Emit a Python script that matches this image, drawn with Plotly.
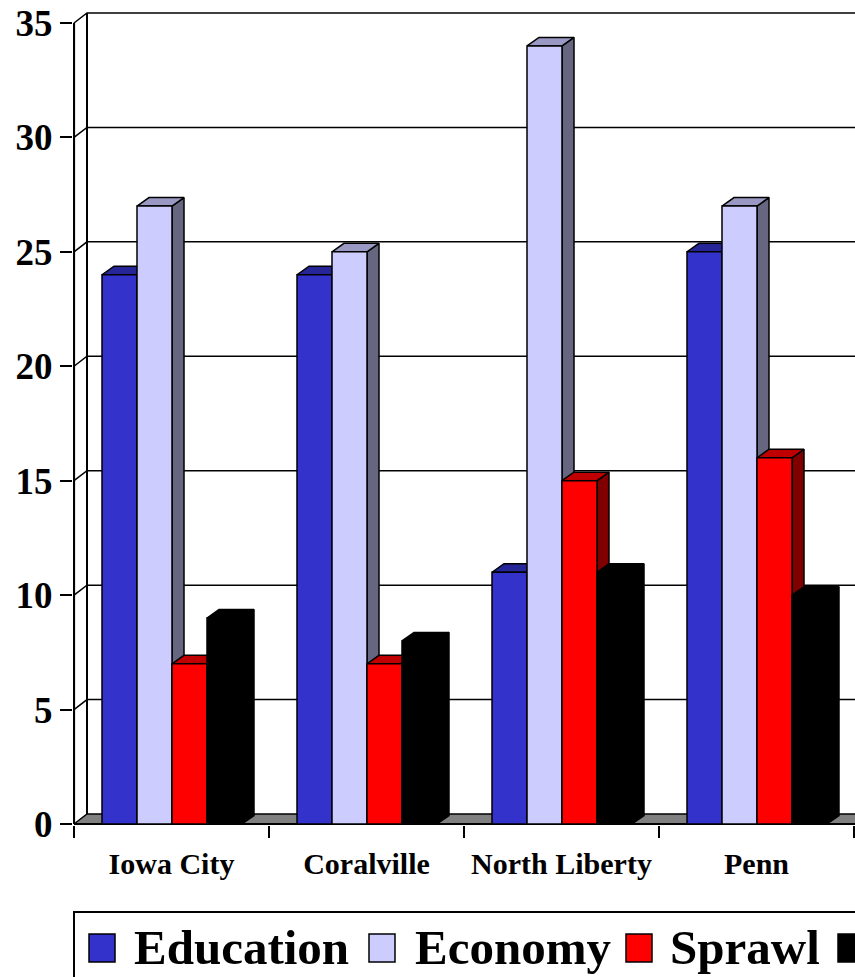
import plotly.graph_objects as go

# ---------------- data ----------------
categories = ["Iowa City", "Coralville", "North Liberty", "Penn"]
series_names = ["Education", "Economy", "Sprawl", "Other"]
education = [24, 24, 11, 25]
economy = [27, 25, 34, 27]
sprawl = [7, 7, 15, 16]
other = [9, 8, 11, 10]
y_ticks = [0, 5, 10, 15, 20, 25, 30, 35]

series_values = [education, economy, sprawl, other]

# ---------------- styles ----------------
front_colors = ["#3333CC", "#CCCCFF", "#FF0000", "#000000"]
top_colors = ["#262699", "#9999C4", "#C00000", "#000000"]
side_colors = ["#1A1A66", "#666680", "#800000", "#000000"]
FLOOR = "#808080"
FONT = "Liberation Serif, Times New Roman, serif"

W, H = 855, 977
ML, MR, MT, MB = 73, 0, 5, 152
PX_X = 195.0      # px per category
PX_Y = 22.886     # px per unit
plot_w = W - ML - MR
plot_h = H - MT - MB
x_range = [-1 / PX_X, (plot_w - 1) / PX_X]
y_range = [-1 / PX_Y, (plot_h - 1) / PX_Y]

DXW, DYW = 13 / PX_X, 10 / PX_Y      # wall depth
DXB, DYB = 12 / PX_X, 8.5 / PX_Y     # bar depth
BAR_OFF, BAR_W = 28 / PX_X, 35 / PX_X
X_END = x_range[1] + 0.2
Y_MAX = max(y_ticks)


def px_x(p):
    return (p - ML) / plot_w


def px_y(p):
    return (H - MB - p) / plot_h


def polys_to_xy(polys):
    xs, ys = [], []
    for poly in polys:
        for (a, b) in poly + [poly[0]]:
            xs.append(a)
            ys.append(b)
        xs.append(None)
        ys.append(None)
    return xs, ys


def poly_trace(polys, color, lw=1.5, name=None):
    xs, ys = polys_to_xy(polys)
    return go.Scatter(x=xs, y=ys, mode="lines" if lw > 0 else "none",
                      fill="toself", fillcolor=color,
                      line=dict(color="black", width=lw),
                      hoverinfo="skip", showlegend=False, name=name)


def line_trace(segs, lw):
    xs, ys = [], []
    for seg in segs:
        for (a, b) in seg:
            xs.append(a)
            ys.append(b)
        xs.append(None)
        ys.append(None)
    return go.Scatter(x=xs, y=ys, mode="lines",
                      line=dict(color="black", width=lw),
                      hoverinfo="skip", showlegend=False)


traces = []
# floor
traces.append(poly_trace([[(0, 0), (X_END, 0), (X_END + DXW, DYW), (DXW, DYW)]], FLOOR, lw=0))
# gridlines on back wall + left wall diagonals
grid = [[(0, v), (DXW, v + DYW), (X_END, v + DYW)] for v in y_ticks]
traces.append(line_trace(grid, 1.5))
# back wall vertical edge
traces.append(line_trace([[(DXW, DYW), (DXW, Y_MAX + DYW)]], 2))
# front vertical axis and floor front edge
traces.append(line_trace([[(0, 0), (0, Y_MAX)], [(0, 0), (X_END, 0)]], 2.2))

# bars
for s, vals in enumerate(series_values):
    fronts, tops, sides = [], [], []
    for i, v in enumerate(vals):
        x0 = i + BAR_OFF + s * BAR_W
        x1 = x0 + BAR_W
        fronts.append([(x0, 0), (x1, 0), (x1, v), (x0, v)])
        tops.append([(x0, v), (x1, v), (x1 + DXB, v + DYB), (x0 + DXB, v + DYB)])
        sides.append([(x1, 0), (x1 + DXB, DYB), (x1 + DXB, v + DYB), (x1, v)])
    traces.append(poly_trace(sides, side_colors[s]))
    traces.append(poly_trace(tops, top_colors[s]))
    traces.append(poly_trace(fronts, front_colors[s], name=series_names[s]))

fig = go.Figure(traces)

# manual legend (box, swatches, labels); the last label lies past the
# right edge in the reference, so only its swatch is drawn
shapes = [dict(type="rect", xref="paper", yref="paper",
               x0=px_x(74), x1=px_x(1100), y0=px_y(912), y1=px_y(1100),
               line=dict(color="black", width=2), fillcolor="white", layer="above")]
annotations = []
sw_left = [89, 369, 626, 838]
txt_left = [132, 413, 668]
for s in range(4):
    shapes.append(dict(type="rect", xref="paper", yref="paper",
                       x0=px_x(sw_left[s]), x1=px_x(sw_left[s] + 26),
                       y0=px_y(962), y1=px_y(934),
                       line=dict(color="black", width=1.5),
                       fillcolor=front_colors[s], layer="above"))
for s in range(3):
    annotations.append(dict(xref="paper", yref="paper", x=px_x(txt_left[s]), y=px_y(948),
                            xanchor="left", yanchor="middle", showarrow=False,
                            text=series_names[s],
                            font=dict(family=FONT, size=49, color="black", weight="bold")))

fig.update_layout(
    width=W, height=H,
    margin=dict(l=ML, r=MR, t=MT, b=MB, pad=0),
    paper_bgcolor="white", plot_bgcolor="white",
    showlegend=False,
    shapes=shapes, annotations=annotations,
    xaxis=dict(range=x_range, showgrid=False, zeroline=False, showline=False,
               tickmode="array", tickvals=[i + 0.5 for i in range(len(categories))],
               ticktext=categories, ticks="", ticklabelstandoff=18,
               tickfont=dict(family=FONT, size=30, color="black", weight="bold"),
               minor=dict(tickmode="array", tickvals=list(range(len(categories) + 1)),
                          ticks="outside", ticklen=12, tickwidth=2, tickcolor="black",
                          showgrid=False),
               fixedrange=True),
    yaxis=dict(range=y_range, showgrid=False, zeroline=False, showline=False,
               tickmode="array", tickvals=y_ticks, ticktext=[str(t) for t in y_ticks],
               ticks="outside", ticklen=12, tickwidth=2, tickcolor="black",
               ticklabelstandoff=0,
               tickfont=dict(family=FONT, size=37, color="black", weight="bold"),
               fixedrange=True),
)

fig.write_html("out.html", config={"displayModeBar": False},
               post_script="document.body.style.margin='0';document.body.style.overflow='hidden';document.documentElement.style.overflow='hidden';")
